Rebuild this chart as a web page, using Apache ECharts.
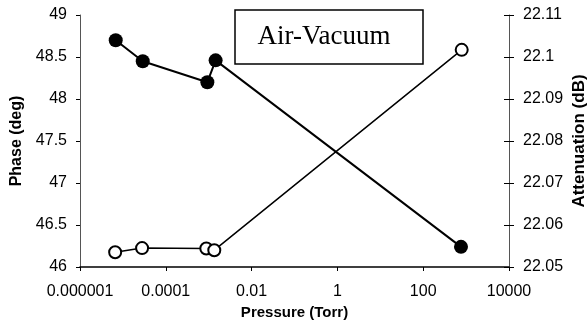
<!DOCTYPE html>
<html><head><meta charset="utf-8">
<script src="https://cdn.jsdelivr.net/npm/echarts@6/dist/echarts.min.js"></script>
<style>html,body{margin:0;padding:0;background:#fff}#c{width:587px;height:323px}</style>
</head><body><div id="c"></div>
<script>
const pressurePhase = [6.8e-6, 2.9e-5, 9.3e-4, 1.45e-3, 760];
const phase = [48.70, 48.45, 48.20, 48.46, 46.24];
const pressureAtt = [6.6e-6, 2.8e-5, 8.8e-4, 1.35e-3, 790];
const attenuation = [22.0535, 22.0545, 22.0544, 22.0540, 22.1017];
const legendText = 'Air-Vacuum';
const xTitle = 'Pressure (Torr)';
const yLeftTitle = 'Phase (deg)';
const yRightTitle = 'Attenuation (dB)';

const chart = echarts.init(document.getElementById('c'));
const FONT = 'Liberation Sans, Arial, sans-serif';
const lab = {color:'#000', fontFamily:FONT, fontSize:16};
const nameStyle = (sz) => ({color:'#000', fontFamily:FONT, fontSize:sz, fontWeight:'bold'});
function fmtLog(v){
  const e = Math.round(Math.log10(v));
  return e < 0 ? Math.pow(10, e).toFixed(-e) : String(Math.round(v));
}
chart.setOption({
  animation:false,
  grid:{left:80, right:78, top:15, bottom:56, containLabel:false, outerBoundsMode:'none'},
  xAxis:{type:'log', logBase:100, min:1e-6, max:1e4,
    name:xTitle, nameLocation:'middle', nameGap:38, nameTextStyle:nameStyle(15), nameMoveOverlap:false,
    axisLine:{lineStyle:{color:'#000', width:1.5}},
    axisTick:{inside:false, length:4, lineStyle:{color:'#000'}},
    minorTick:{show:false}, splitLine:{show:false},
    axisLabel:Object.assign({margin:17, formatter:fmtLog}, lab)
  },
  yAxis:[
    {type:'value', min:46, max:49, interval:0.5, position:'left',
     name:yLeftTitle, nameLocation:'middle', nameGap:55, nameRotate:90, nameTextStyle:nameStyle(16), nameMoveOverlap:false,
     axisLine:{show:true, lineStyle:{color:'#555', width:1}},
     axisTick:{show:true, length:4, lineStyle:{color:'#000'}},
     splitLine:{show:false},
     axisLabel:Object.assign({margin:13}, lab)},
    {type:'value', min:22.05, max:22.11, interval:0.01, position:'right',
     name:yRightTitle, nameLocation:'middle', nameGap:62, nameRotate:90, nameTextStyle:nameStyle(17), nameMoveOverlap:false,
     axisLine:{show:true, lineStyle:{color:'#555', width:1}},
     axisTick:{show:true, length:5, lineStyle:{color:'#000'}},
     splitLine:{show:false},
     axisLabel:Object.assign({margin:14, formatter:function(v){return String(Math.round(v*100)/100);}}, lab)},
    {type:'value', min:22.05, max:22.11, interval:0.01, position:'right',
     axisLine:{show:false}, axisLabel:{show:false}, splitLine:{show:false},
     axisTick:{show:true, inside:true, length:5, lineStyle:{color:'#000'}}}
  ],
  series:[
    {type:'line', yAxisIndex:0, data:pressurePhase.map((p,i)=>[p, phase[i]]),
     symbol:'circle', symbolSize:14, itemStyle:{color:'#000'},
     lineStyle:{color:'#000', width:2}, z:3},
    {type:'line', yAxisIndex:1, data:pressureAtt.map((p,i)=>[p, attenuation[i]]),
     symbol:'circle', symbolSize:12, itemStyle:{color:'#fff', borderColor:'#000', borderWidth:2},
     lineStyle:{color:'#000', width:1.5}, z:2}
  ],
  graphic:[
    {type:'rect', shape:{x:235, y:10, width:188, height:54},
     style:{fill:'#fff', stroke:'#000', lineWidth:1.5}, z:10},
    {type:'text', x:324, y:37, z:11,
     style:{text:legendText, fill:'#000', font:'27px "Liberation Serif", "Times New Roman", serif', textAlign:'center', textVerticalAlign:'middle'}}
  ]
});
</script></body></html>
